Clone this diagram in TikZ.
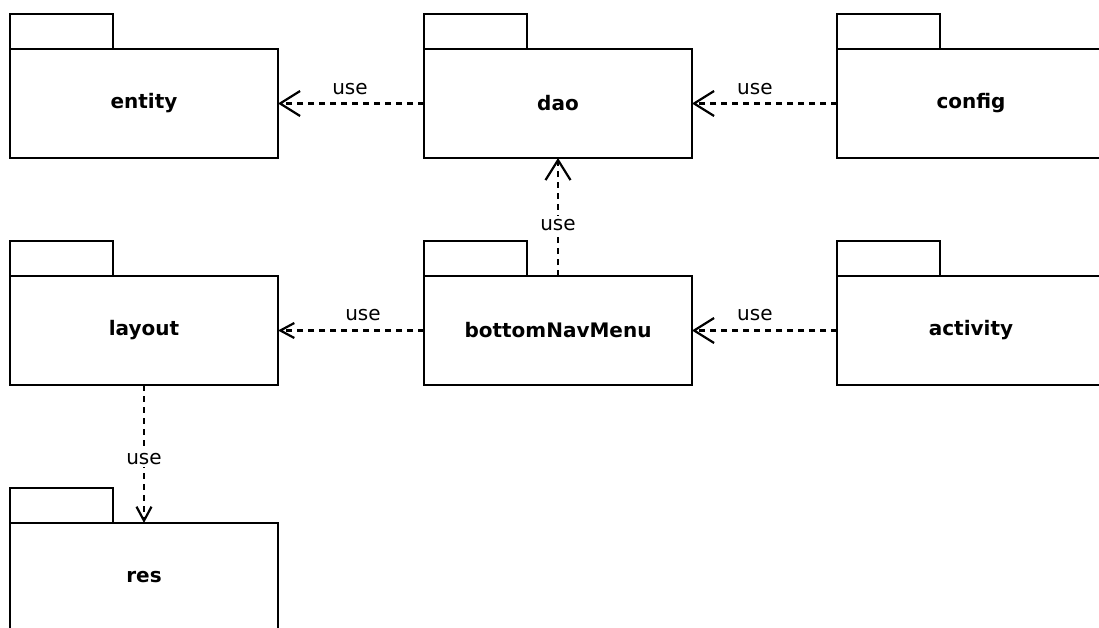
\documentclass[tikz,border=0pt]{standalone}
\usepackage{fontspec}
\setmainfont{DejaVu Sans}
\usetikzlibrary{arrows.meta}
\tikzset{
  pkg/.style={draw, line width=2.3pt, rectangle, minimum width=268pt, minimum height=109pt,
    inner sep=0pt, outer sep=0pt, font=\fontsize{20}{24}\selectfont\bfseries},
  pkgtab/.style={draw, line width=2.3pt, rectangle, minimum width=103pt, minimum height=35pt,
    inner sep=0pt, outer sep=0pt, anchor=south west},
  dep/.style={line width=2.2pt, dash pattern=on 6pt off 5pt},
  bigtip/.style={-{Straight Barb[length=20pt,width=25pt,line width=2.2pt]}},
  smalltip/.style={-{Straight Barb[length=14pt,width=15pt,line width=2.2pt]}},
  lbl/.style={font=\fontsize{20}{24}\selectfont, inner sep=1pt},
  vlbl/.style={lbl, fill=white, inner xsep=1pt, inner ysep=3pt},
}
\begin{document}
\begin{tikzpicture}[x=1pt, y=-1pt]
\useasboundingbox (0,0) rectangle (1099,628);
\clip (0,0) rectangle (1099,628);

% package bodies
\node[pkg] (entity) at (144,103.5) {entity};
\node[pkg] (dao)    at (558,103.5) {dao};
\node[pkg] (config) at (971,103.5) {config};
\node[pkg] (layout) at (144,330.5) {layout};
\node[pkg] (bnm)    at (558,330.5) {bottomNavMenu};
\node[pkg] (activity) at (971,330.5) {activity};
\node[pkg] (res)    at (144,577.5) {res};

% package tabs
\foreach \p in {entity,dao,config,layout,bnm,activity,res}
  \node[pkgtab] (\p-tab) at (\p.north west) {};

% dependencies
\draw[dep, bigtip] (dao.west) -- (entity.east)
  node[lbl, pos=0.507, yshift=14pt] {use};
\draw[dep, bigtip] (config.west) -- (dao.east)
  node[lbl, pos=0.566, yshift=14pt] {use};
\draw[dep, bigtip] (bnm.north) -- (dao.south)
  node[vlbl, pos=0.432] {use};
\draw[dep, smalltip] (bnm.west) -- (layout.east)
  node[lbl, pos=0.418, yshift=15pt] {use};
\draw[dep, bigtip] (activity.west) -- (bnm.east)
  node[lbl, pos=0.566, yshift=15pt] {use};
\draw[dep, smalltip] (layout.south) -- (res.north)
  node[vlbl, pos=0.533] {use};
\end{tikzpicture}
\end{document}
